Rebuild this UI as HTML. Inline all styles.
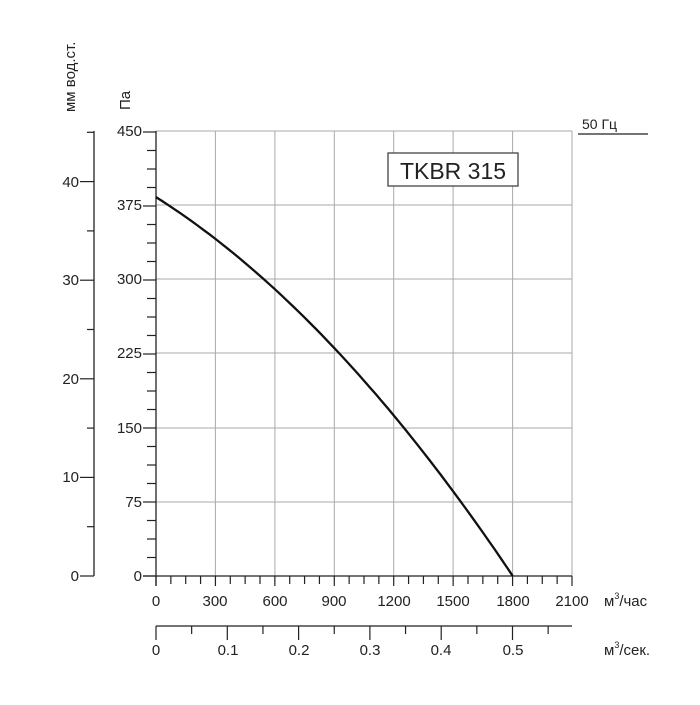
<!DOCTYPE html>
<html><head><meta charset="utf-8"><style>body{margin:0;background:#fff}</style></head><body>
<svg width="700" height="700" xmlns="http://www.w3.org/2000/svg" font-family="Liberation Sans, DejaVu Sans, sans-serif" fill="#222">
<g stroke="#aaa" stroke-width="1">
<line x1="215.4" y1="131" x2="215.4" y2="576"/><line x1="274.9" y1="131" x2="274.9" y2="576"/><line x1="334.3" y1="131" x2="334.3" y2="576"/><line x1="393.7" y1="131" x2="393.7" y2="576"/><line x1="453.1" y1="131" x2="453.1" y2="576"/><line x1="512.6" y1="131" x2="512.6" y2="576"/><line x1="572" y1="131" x2="572" y2="576"/>
<line x1="156" y1="131" x2="572" y2="131"/><line x1="156" y1="205" x2="572" y2="205"/><line x1="156" y1="279" x2="572" y2="279"/><line x1="156" y1="353" x2="572" y2="353"/><line x1="156" y1="428" x2="572" y2="428"/><line x1="156" y1="502" x2="572" y2="502"/>
</g>
<g stroke="#222" stroke-width="1.3" fill="none">
<line x1="156" y1="131" x2="156" y2="586"/>
<line x1="143" y1="576" x2="572" y2="576"/>
<line x1="94" y1="131" x2="94" y2="576"/>
<line x1="156" y1="626" x2="572" y2="626"/>
</g>
<g id="t" stroke="#222" stroke-width="1.2"></g>
<path id="c" d="" stroke="#111" stroke-width="2.3" fill="none"/>
<g font-size="15" text-anchor="end">
<text x="142" y="136">450</text><text x="142" y="210">375</text><text x="142" y="284">300</text><text x="142" y="358">225</text><text x="142" y="433">150</text><text x="142" y="507">75</text><text x="142" y="581">0</text>
<text x="79" y="187">40</text><text x="79" y="285">30</text><text x="79" y="384">20</text><text x="79" y="482">10</text><text x="79" y="581">0</text>
</g>
<g font-size="15" text-anchor="middle">
<text x="156" y="606">0</text><text x="215" y="606">300</text><text x="275" y="606">600</text><text x="334" y="606">900</text><text x="394" y="606">1200</text><text x="453" y="606">1500</text><text x="513" y="606">1800</text><text x="572" y="606">2100</text>
<text x="156" y="655">0</text><text x="228" y="655">0.1</text><text x="299" y="655">0.2</text><text x="370" y="655">0.3</text><text x="441" y="655">0.4</text><text x="513" y="655">0.5</text>
</g>
<text x="604" y="606" font-size="15">м<tspan font-size="9" dy="-7">3</tspan><tspan dy="7">/час</tspan></text>
<text x="604" y="655" font-size="15">м<tspan font-size="9" dy="-7">3</tspan><tspan dy="7">/сек.</tspan></text>
<text x="582" y="129" font-size="14">50 Гц</text>
<line x1="578" y1="134" x2="648" y2="134" stroke="#222" stroke-width="1.2"/>
<rect x="388" y="153" width="130" height="33" fill="#fff" stroke="#444" stroke-width="1.3"/>
<text x="453" y="179" font-size="23" text-anchor="middle">TKBR 315</text>
<text transform="translate(75,112) rotate(-90)" font-size="15">мм вод.ст.</text>
<text transform="translate(130,110) rotate(-90)" font-size="15">Па</text>
</svg>
<script>
var g=document.getElementById('t'),s='';
function L(a,b,c,d){s+='<line x1="'+a+'" y1="'+b+'" x2="'+c+'" y2="'+d+'"/>';}
for(var i=0;i<=24;i++){var y=576-i*18.5;if(i%4==0)L(143,y,156,y);else L(147,y,156,y);}
for(var m=0;m<=45;m+=5){var y=576-m*9.86;if(m%10==0)L(80,y,94,y);else L(87,y,94,y);}
for(var k=0;k<=28;k++){var x=156+k*14.857;L(x,576,x,k%4==0?586:584);}
for(var k=0;k<=11;k++){var x=156+k*35.65;if(x>572)break;L(x,626,x,k%2==0?640:634);}
g.innerHTML=s;
var d='';for(var q=0;q<=1800;q+=30){var p=384-0.1268*q-4.8e-5*q*q;if(p<0)p=0;var x=156+q*59.43/300,y=576-p*0.9867;d+=(q?'L':'M')+x.toFixed(1)+','+y.toFixed(1);}
document.getElementById('c').setAttribute('d',d);
</script>
</body></html>
